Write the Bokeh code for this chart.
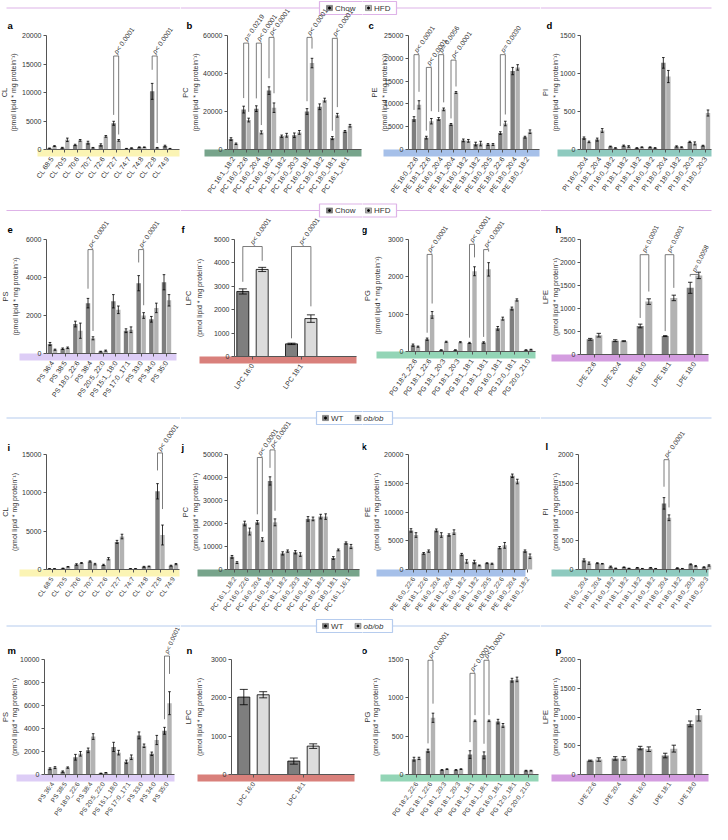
import math
from bokeh.plotting import figure
from bokeh.layouts import column, row
from bokeh.models import FixedTicker, NumeralTickFormatter, Range1d
from bokeh.core.properties import value
from bokeh.embed import file_html
from bokeh.resources import INLINE

FONT = "Liberation Sans"

# ------------------------------------------------------------------ DATA
CL_LABELS = ["CL 68:5", "CL 70:5", "CL 70:6", "CL 70:7", "CL 72:6", "CL 72:7", "CL 74:7", "CL 74:8", "CL 72:8", "CL 74:9"]
PC_LABELS = ["PC 16:1_18:2", "PC 16:0_22:6", "PC 16:0_20:4", "PC 16:0_18:2", "PC 18:1_18:2", "PC 16:0_20:3",
             "PC 16:0_18:1", "PC 18:0_18:2", "PC 18:0_18:1", "PC 16:1_16:1"]
PE_LABELS = ["PE 16:0_22:6", "PE 18:1_22:6", "PE 16:0_20:4", "PE 18:1_20:4", "PE 16:0_18:2", "PE 18:1_18:2",
             "PE 18:0_20:5", "PE 18:0_22:6", "PE 18:0_20:4", "PE 18:0_18:2"]
PI_LABELS = ["PI 16:0_20:4", "PI 18:1_20:4", "PI 16:0_18:2", "PI 18:1_18:2", "PI 18:1_18:2", "PI 16:0_18:2",
             "PI 18:0_20:4", "PI 18:0_18:2", "PI 18:0_20:3", "PI 18:0_20:3"]
PS_LABELS = ["PS 36:4", "PS 38:5", "PS 18:0_22:6", "PS 38:4", "PS 20:5_22:0", "PS 15:1_18:0", "PS 17:0_17:1",
             "PS 33:0", "PS 34:0", "PS 35:0"]
LPC_LABELS = ["LPC 16:0", "LPC 18:1"]
PG_LABELS = ["PG 18:2_22:6", "PG 18:1_22:6", "PG 18:1_20:3", "PG 18:1_20:3", "PG 18:1_18:1", "PG 18:1_18:1",
             "PG 16:0_18:1", "PG 12:0_18:1", "PG 20:0_21:0"]
LPE_LABELS = ["LPE 22:6", "LPE 20:4", "LPE 16:0", "LPE 18:1", "LPE 18:0"]

# --- Chow vs HFD
a_chow = [200, 300, 800, 1200, 800, 4600, 150, 400, 10200, 600]
a_hfd = [600, 1700, 1600, 300, 2300, 1600, 250, 400, 300, 150]
a_chow_sem = [60, 80, 120, 250, 200, 350, 40, 60, 1400, 150]
a_hfd_sem = [80, 300, 150, 60, 150, 150, 50, 50, 60, 40]
a_ticks = [0, 5000, 10000, 15000, 20000]
a_sig = [(5, 16400, "p < 0.0001"), (8, 16400, "p < 0.0001")]

b_chow = [5500, 21000, 21500, 31000, 7000, 7500, 20000, 22500, 6000, 9500]
b_hfd = [3000, 15500, 9000, 22000, 7500, 9000, 45500, 26000, 18000, 12500]
b_chow_sem = [700, 1800, 1500, 2000, 600, 1200, 1500, 1500, 800, 500]
b_hfd_sem = [400, 1000, 800, 2500, 1000, 1000, 2500, 1000, 1000, 700]
b_ticks = [0, 20000, 40000, 60000]
b_sig = [(1, 56000, "p = 0.0219"), (2, 56000, "p < 0.0001"), (3, 59000, "p < 0.0001"),
         (6, 59000, "p < 0.0001"), (8, 58500, "p < 0.0001")]

c_chow = [6700, 2600, 6700, 5500, 2000, 1200, 1100, 3600, 17200, 2700]
c_hfd = [9800, 6200, 8800, 12500, 1900, 1300, 1100, 5700, 18000, 3900]
c_chow_sem = [500, 300, 300, 200, 300, 400, 200, 300, 800, 200]
c_hfd_sem = [900, 600, 300, 200, 300, 500, 200, 500, 600, 400]
c_ticks = [0, 5000, 10000, 15000, 20000, 25000]
c_sig = [(0, 20800, "p < 0.0001"), (1, 18000, "p < 0.0001"), (2, 20800, "p = 0.0056"),
         (3, 19600, "p < 0.0001"), (7, 20800, "p = 0.0030")]

d_chow = [150, 130, 40, 50, 20, 30, 1140, 40, 100, 50]
d_hfd = [100, 250, 20, 40, 30, 20, 960, 30, 80, 480]
d_chow_sem = [15, 20, 5, 8, 4, 5, 70, 8, 8, 6]
d_hfd_sem = [10, 25, 4, 10, 5, 5, 80, 6, 20, 40]
d_ticks = [0, 500, 1000, 1500]
d_sig = []

e_chow = [500, 250, 1550, 2650, 100, 2750, 1200, 3700, 1800, 3750]
e_hfd = [200, 300, 1200, 800, 150, 2300, 1250, 2000, 2400, 2800]
e_chow_sem = [80, 40, 150, 250, 20, 350, 100, 400, 150, 400]
e_hfd_sem = [30, 40, 400, 80, 30, 200, 150, 150, 250, 300]
e_ticks = [0, 2000, 4000, 6000]
e_sig = [(3, 5470, "p < 0.0001"), (7, 5470, "p < 0.0001")]

f_chow = [2780, 540]
f_hfd = [3720, 1620]
f_chow_sem = [110, 30]
f_hfd_sem = [90, 160]
f_ticks = [0, 1000, 2000, 3000, 4000, 5000]
f_sig = [(0, 4700, "p < 0.0001"), (1, 4700, "p < 0.0001")]

g_chow = [170, 330, 40, 40, 230, 240, 620, 1150, 40]
g_hfd = [130, 980, 260, 250, 2150, 2200, 880, 1380, 50]
g_chow_sem = [30, 30, 5, 5, 15, 20, 50, 40, 5]
g_hfd_sem = [15, 90, 15, 15, 120, 180, 40, 30, 10]
g_ticks = [0, 1000, 2000, 3000]
g_sig = [(1, 2600, "p < 0.0001"), (4, 2870, "p < 0.0001"), (5, 2730, "p < 0.0001")]

h_chow = [330, 300, 620, 400, 1450]
h_hfd = [420, 290, 1150, 1230, 1720]
h_chow_sem = [20, 20, 40, 10, 120]
h_hfd_sem = [40, 10, 60, 60, 70]
h_ticks = [0, 500, 1000, 1500, 2000, 2500]
h_sig = [(2, 2170, "p < 0.0001"), (3, 2170, "p < 0.0001"), (4, 1740, "p = 0.0058")]

# --- WT vs ob/ob
i_wt = [100, 150, 650, 1050, 600, 3600, 100, 350, 10200, 500]
i_ob = [100, 350, 850, 700, 1400, 4300, 100, 400, 4500, 700]
i_wt_sem = [20, 30, 100, 80, 80, 200, 20, 60, 1000, 60]
i_ob_sem = [20, 40, 60, 100, 150, 300, 20, 50, 1300, 80]
i_ticks = [0, 5000, 10000, 15000]
i_sig = [(8, 15200, "p < 0.0001")]

j_wt = [5500, 20000, 20500, 38500, 7000, 7500, 22000, 23000, 5000, 11500]
j_ob = [3000, 16500, 13000, 20500, 8000, 6500, 22000, 23000, 8500, 10000]
j_wt_sem = [600, 1000, 800, 1800, 700, 700, 1000, 1000, 600, 500]
j_ob_sem = [400, 1500, 800, 1500, 500, 800, 800, 1200, 400, 900]
j_ticks = [0, 10000, 20000, 30000, 40000, 50000]
j_sig = [(2, 48700, "p < 0.0001"), (3, 52000, "p < 0.0001")]

k_wt = [6800, 2800, 6800, 6000, 2600, 1300, 1100, 3800, 16300, 3200]
k_ob = [6000, 3200, 6000, 6500, 1400, 700, 1000, 4200, 15300, 2300]
k_wt_sem = [300, 150, 250, 200, 200, 300, 80, 200, 300, 200]
k_ob_sem = [400, 200, 400, 400, 300, 80, 100, 500, 400, 400]
k_ticks = [0, 5000, 10000, 15000, 20000]
k_sig = []

l_wt = [160, 110, 50, 40, 30, 30, 1150, 25, 90, 40]
l_ob = [110, 100, 20, 20, 15, 15, 900, 15, 60, 70]
l_wt_sem = [25, 8, 10, 5, 5, 5, 100, 5, 8, 8]
l_ob_sem = [20, 5, 5, 3, 3, 3, 50, 3, 10, 12]
l_ticks = [0, 500, 1000, 1500, 2000]
l_sig = [(6, 1910, "p < 0.0001")]

m_wt = [500, 250, 1500, 2100, 100, 2400, 1100, 3400, 1800, 3800]
m_ob = [600, 600, 1800, 3300, 150, 1900, 1500, 2500, 3000, 6200]
m_wt_sem = [80, 60, 250, 200, 20, 400, 150, 300, 150, 300]
m_ob_sem = [80, 60, 200, 250, 20, 200, 200, 150, 400, 1000]
m_ticks = [0, 2000, 4000, 6000, 8000, 10000]
m_sig = [(9, 10300, "p < 0.0001")]

n_wt = [2020, 350]
n_ob = [2080, 740]
n_wt_sem = [200, 80]
n_ob_sem = [80, 60]
n_ticks = [0, 1000, 2000, 3000]
n_sig = []

o_wt = [200, 310, 60, 60, 260, 250, 690, 1230, 50]
o_ob = [210, 740, 70, 70, 700, 700, 640, 1240, 50]
o_wt_sem = [25, 20, 5, 5, 50, 45, 30, 25, 5]
o_ob_sem = [15, 60, 5, 5, 10, 10, 25, 30, 5]
o_ticks = [0, 500, 1000, 1500]
o_sig = [(1, 1490, "p < 0.0001"), (4, 1320, "p < 0.0001"), (5, 1490, "p < 0.0001")]

p_wt = [240, 280, 460, 330, 880]
p_ob = [260, 280, 440, 450, 1030]
p_wt_sem = [10, 30, 30, 40, 50]
p_ob_sem = [30, 30, 40, 60, 100]
p_ticks = [0, 500, 1000, 1500, 2000]
p_sig = []

# ------------------------------------------------------------------ STYLE / LAYOUT
DARK = "#7e7e7e"
LIGHT = "#b3b3b3"
LPC_LIGHT = "#dcdcdc"
AXC = "#555555"
TXT = "#333333"
UNIT = "(pmol lipid * mg protein\u207b\u00b9)"

BAND = {"CL": "#fbf4b4", "PC": "#77a48b", "PE": "#a6c0e9", "PI": "#8ecabf",
        "PS": "#ddcdf6", "LPC": "#d9807b", "PG": "#93d5b6", "LPE": "#d49de0"}

# bar width, half offset, cap half width (px)
BAR_STYLE = {"std": (4.4, 2.5, 1.3), "lpe": (7.0, 4.3, 2.2), "lpc": (12.0, 9.7, 4.0)}

ROWS_REF = [(8, 210), (211, 419), (421, 629), (633, 839)]
COLS_REF = [(6, 186), (186, 368), (368, 546), (546, 718)]
ROW_XLABEL_SIZE = ["7px", "7px", "6.5px", "6.5px"]
BAND_H = 7

LAY = {
    "a": dict(ax=52, g0=57.5, g1=173, bl=43, br=185, top=43, base=157, let=(13, 33), t1=10, t2=19),
    "b": dict(ax=233, g0=239, g1=353, bl=210, br=367, top=43, base=157, let=(192, 33), t1=190.5, t2=201),
    "c": dict(ax=414, g0=422, g1=533, bl=389, br=545, top=43, base=157, let=(374, 33), t1=380, t2=390),
    "d": dict(ax=586, g0=592, g1=711, bl=563, br=717, top=43, base=157, let=(552, 33), t1=550.5, t2=561),
    "e": dict(ax=52, g0=58, g1=172, bl=25, br=182, top=248, base=362, let=(13, 238), t1=11, t2=21),
    "f": dict(ax=240, g0=258, g1=306.7, bl=205, br=362, top=248, base=365, let=(187, 238), t1=194, t2=205),
    "g": dict(ax=414, g0=421, g1=534, bl=382, br=541, top=248, base=360, let=(367, 238), t1=373, t2=383),
    "h": dict(ax=586, g0=600, g1=700, bl=557, br=714, top=248, base=363, let=(561, 238), t1=550.5, t2=561),
    "i": dict(ax=52, g0=57.5, g1=179, bl=25, br=185, top=465, base=580, let=(13, 458), t1=11, t2=20),
    "j": dict(ax=233, g0=240, g1=354, bl=203, br=365, top=465, base=580, let=(187, 458), t1=190.5, t2=201),
    "k": dict(ax=414, g0=419, g1=533, bl=382, br=531, top=465, base=580, let=(367, 457), t1=373, t2=382),
    "l": dict(ax=584, g0=592, g1=712, bl=557, br=714, top=465, base=580, let=(551, 457), t1=550.5, t2=561),
    "m": dict(ax=50, g0=58, g1=172.5, bl=22, br=180, top=674, base=789, let=(13, 665), t1=11, t2=20),
    "n": dict(ax=237, g0=259, g1=309, bl=203, br=360, top=674, base=789, let=(192, 665), t1=194, t2=205),
    "o": dict(ax=414, g0=422, g1=534, bl=386, br=544, top=674, base=789, let=(367, 665), t1=373, t2=381),
    "p": dict(ax=586, g0=600, g1=700, bl=557, br=714, top=674, base=789, let=(561, 665), t1=550.5, t2=561),
}

PINK = "#deb3e8"
BLUE = "#b6ccee"
LEGENDS = [
    dict(y=15.5, x0=325, x1=402, color=PINK, items=[(332, "Chow", DARK, "normal"), (371, "HFD", LIGHT, "normal")]),
    dict(y=219, x0=325, x1=402, color=PINK, items=[(332, "Chow", DARK, "normal"), (371, "HFD", LIGHT, "normal")]),
    dict(y=428.5, x0=322, x1=398, color=BLUE, items=[(328, "WT", DARK, "normal"), (360.5, "ob/ob", LIGHT, "italic")]),
    dict(y=640.5, x0=322, x1=398, color=BLUE, items=[(328, "WT", DARK, "normal"), (360.5, "ob/ob", LIGHT, "italic")]),
]
CHAR_W = {"Chow": 20.5, "HFD": 17.8, "WT": 16.0, "ob/ob": 20.0}

SPECS = [
    dict(key="a", row=0, col=0, lipid="CL", labels=CL_LABELS, c=a_chow, t=a_hfd, cs=a_chow_sem, ts=a_hfd_sem, ticks=a_ticks, sig=a_sig, style="std"),
    dict(key="b", row=0, col=1, lipid="PC", labels=PC_LABELS, c=b_chow, t=b_hfd, cs=b_chow_sem, ts=b_hfd_sem, ticks=b_ticks, sig=b_sig, style="std"),
    dict(key="c", row=0, col=2, lipid="PE", labels=PE_LABELS, c=c_chow, t=c_hfd, cs=c_chow_sem, ts=c_hfd_sem, ticks=c_ticks, sig=c_sig, style="std"),
    dict(key="d", row=0, col=3, lipid="PI", labels=PI_LABELS, c=d_chow, t=d_hfd, cs=d_chow_sem, ts=d_hfd_sem, ticks=d_ticks, sig=d_sig, style="std"),
    dict(key="e", row=1, col=0, lipid="PS", labels=PS_LABELS, c=e_chow, t=e_hfd, cs=e_chow_sem, ts=e_hfd_sem, ticks=e_ticks, sig=e_sig, style="std"),
    dict(key="f", row=1, col=1, lipid="LPC", labels=LPC_LABELS, c=f_chow, t=f_hfd, cs=f_chow_sem, ts=f_hfd_sem, ticks=f_ticks, sig=f_sig, style="lpc"),
    dict(key="g", row=1, col=2, lipid="PG", labels=PG_LABELS, c=g_chow, t=g_hfd, cs=g_chow_sem, ts=g_hfd_sem, ticks=g_ticks, sig=g_sig, style="std"),
    dict(key="h", row=1, col=3, lipid="LPE", labels=LPE_LABELS, c=h_chow, t=h_hfd, cs=h_chow_sem, ts=h_hfd_sem, ticks=h_ticks, sig=h_sig, style="lpe"),
    dict(key="i", row=2, col=0, lipid="CL", labels=CL_LABELS, c=i_wt, t=i_ob, cs=i_wt_sem, ts=i_ob_sem, ticks=i_ticks, sig=i_sig, style="std"),
    dict(key="j", row=2, col=1, lipid="PC", labels=PC_LABELS, c=j_wt, t=j_ob, cs=j_wt_sem, ts=j_ob_sem, ticks=j_ticks, sig=j_sig, style="std"),
    dict(key="k", row=2, col=2, lipid="PE", labels=PE_LABELS, c=k_wt, t=k_ob, cs=k_wt_sem, ts=k_ob_sem, ticks=k_ticks, sig=k_sig, style="std"),
    dict(key="l", row=2, col=3, lipid="PI", labels=PI_LABELS, c=l_wt, t=l_ob, cs=l_wt_sem, ts=l_ob_sem, ticks=l_ticks, sig=l_sig, style="std"),
    dict(key="m", row=3, col=0, lipid="PS", labels=PS_LABELS, c=m_wt, t=m_ob, cs=m_wt_sem, ts=m_ob_sem, ticks=m_ticks, sig=m_sig, style="std"),
    dict(key="n", row=3, col=1, lipid="LPC", labels=LPC_LABELS, c=n_wt, t=n_ob, cs=n_wt_sem, ts=n_ob_sem, ticks=n_ticks, sig=n_sig, style="lpc"),
    dict(key="o", row=3, col=2, lipid="PG", labels=PG_LABELS, c=o_wt, t=o_ob, cs=o_wt_sem, ts=o_ob_sem, ticks=o_ticks, sig=o_sig, style="std"),
    dict(key="p", row=3, col=3, lipid="LPE", labels=LPE_LABELS, c=p_wt, t=p_ob, cs=p_wt_sem, ts=p_ob_sem, ticks=p_ticks, sig=p_sig, style="lpe"),
]

P_ANGLE_DEFAULT = 55
P_ANGLE_PANEL = {"h": 63, "m": 66}
P_SIZE_DEFAULT = 6.8
P_SIZE_PANEL = {"m": 6.3, "h": 6.5}
X_ANGLE = math.radians(55)


def txt(p, x, y, s, size="7px", style="normal", angle=0.0, align="left", baseline="middle", color=TXT):
    p.text(x=[x], y=[y], text=[s], angle=angle, text_font=value(FONT), text_font_size=size,
           text_font_style=style, text_align=align, text_baseline=baseline, text_color=color)


def build(spec):
    lay = LAY[spec["key"]]
    rt, rb = ROWS_REF[spec["row"]]
    cl, cr = COLS_REF[spec["col"]]
    labels = spec["labels"]
    n = len(labels)
    ymax = spec["ticks"][-1]
    ppu = (lay["g1"] - lay["g0"]) / (n - 1)
    ppy = (lay["base"] - lay["top"]) / ymax

    def X(px):
        return (px - lay["g0"]) / ppu

    def Y(py):
        return (lay["base"] - py) / ppy

    p = figure(width=int(cr - cl), height=int(rb - rt),
               x_range=Range1d(X(cl), X(cr)), y_range=Range1d(Y(rb), Y(rt)),
               output_backend="svg", toolbar_location=None, outline_line_color=None)
    p.min_border_left = p.min_border_right = p.min_border_top = p.min_border_bottom = 0
    if p.title is not None:
        p.title.visible = False
    p.grid.visible = False
    p.background_fill_color = "white"
    p.border_fill_color = "white"

    # legend strip of this row (each figure draws the part that falls inside it)
    leg = LEGENDS[spec["row"]]
    ly = leg["y"]
    p.segment(x0=[X(max(12, cl))], y0=[Y(ly)], x1=[X(min(717, cr))], y1=[Y(ly)],
              line_color=leg["color"], line_width=1.2)
    if leg["x1"] > cl and leg["x0"] < cr:
        p.quad(left=[X(leg["x0"])], right=[X(leg["x1"])], bottom=[Y(ly + 6.5)], top=[Y(ly - 6.5)],
               fill_color="white", line_color=leg["color"], line_width=1.2)
    for mx, name, colr, fst in leg["items"]:
        if mx + 6 > cl and mx < cr:
            p.quad(left=[X(mx)], right=[X(mx + 6)], bottom=[Y(ly + 2.6)], top=[Y(ly - 2.6)],
                   fill_color=colr, line_color="#555555", line_width=0.5)
            p.scatter(x=[X(mx + 3)], y=[Y(ly)], size=2, color="black")
        tx = mx + 8.5
        if tx >= cl and tx + CHAR_W[name] <= cr:
            txt(p, X(tx), Y(ly), name, size="8px", style=fst)

    # coloured class band under the baseline
    p.quad(left=[X(lay["bl"])], right=[X(lay["br"])], bottom=[Y(lay["base"] + BAND_H)], top=[0],
           fill_color=BAND[spec["lipid"]], line_color=None)

    # bars
    bw, off, cap = BAR_STYLE[spec["style"]]
    bwu, offu, capu = bw / ppu, off / ppu, cap / ppu
    x_c = [i - offu for i in range(n)]
    x_t = [i + offu for i in range(n)]
    outline = "black" if spec["style"] == "lpc" else None
    light = LPC_LIGHT if spec["style"] == "lpc" else LIGHT
    p.vbar(x=x_c, top=spec["c"], bottom=0, width=bwu, fill_color=DARK, line_color=outline, line_width=0.8)
    p.vbar(x=x_t, top=spec["t"], bottom=0, width=bwu, fill_color=light, line_color=outline, line_width=0.8)

    # error bars (mean +/- SEM)
    for xs, m, e in ((x_c, spec["c"], spec["cs"]), (x_t, spec["t"], spec["ts"])):
        lo = [max(mi - ei, 0) for mi, ei in zip(m, e)]
        hi = [mi + ei for mi, ei in zip(m, e)]
        p.segment(x0=xs, y0=lo, x1=xs, y1=hi, line_color="black", line_width=0.8)
        p.segment(x0=[x - capu for x in xs], y0=hi, x1=[x + capu for x in xs], y1=hi,
                  line_color="black", line_width=0.8)
        p.segment(x0=[x - capu for x in xs], y0=lo, x1=[x + capu for x in xs], y1=lo,
                  line_color="black", line_width=0.8)

    # significance brackets
    ang = math.radians(P_ANGLE_PANEL.get(spec["key"], P_ANGLE_DEFAULT))
    psz = P_SIZE_PANEL.get(spec["key"], P_SIZE_DEFAULT)
    for g, top, label in spec["sig"]:
        xl, xr = g - offu, g + offu
        lleg = min(spec["c"][g] + 2.2 * spec["cs"][g] + 4 / ppy, top - 2 / ppy)
        rleg = min(spec["t"][g] + 2.2 * spec["ts"][g] + 4 / ppy, top - 2 / ppy)
        p.line(x=[xl, xl, xr, xr], y=[lleg, top, top, rleg], line_color="#5a5a5a", line_width=0.8)
        ax0, ay0 = g - 1.0 / ppu, top + 3.0 / ppy
        txt(p, ax0, ay0, label[0], size=f"{psz}px", style="italic", angle=ang)
        w = 0.58 * psz
        txt(p, ax0 + w * math.cos(ang) / ppu, ay0 + w * math.sin(ang) / ppy, label[1:],
            size=f"{psz}px", angle=ang)

    # panel letter and axis titles
    lx, lyy = lay["let"]
    txt(p, X(lx), Y(lyy), spec["key"], size="9.5px", style="bold", color="black")
    mid = (lay["top"] + lay["base"]) / 2
    txt(p, X(lay["t1"]), Y(mid), spec["lipid"], size="7.5px", angle=math.pi / 2, align="center")
    txt(p, X(lay["t2"]), Y(mid), UNIT, size="7px", angle=math.pi / 2, align="center")

    # y axis (placed at its own location inside the frame)
    yax = p.yaxis[0]
    yax.fixed_location = X(lay["ax"])
    yax.bounds = (0, ymax)
    yax.ticker = FixedTicker(ticks=spec["ticks"], minor_ticks=[])
    yax.formatter = NumeralTickFormatter(format="0")
    yax.major_tick_out = 3
    yax.major_tick_in = 0
    yax.minor_tick_out = 0
    yax.minor_tick_in = 0
    yax.axis_line_color = AXC
    yax.major_tick_line_color = AXC
    yax.major_label_text_font = FONT
    yax.major_label_text_font_size = "7px"
    yax.major_label_text_color = TXT
    yax.major_label_standoff = 2

    # x axis at the baseline
    xax = p.xaxis[0]
    xax.fixed_location = 0
    xax.bounds = (X(lay["ax"]), X(lay["br"]))
    xax.ticker = FixedTicker(ticks=list(range(n)), minor_ticks=[])
    xax.major_label_overrides = {i: lab for i, lab in enumerate(labels)}
    xax.major_label_orientation = X_ANGLE
    xax.major_tick_out = 3
    xax.major_tick_in = 0
    xax.minor_tick_out = 0
    xax.minor_tick_in = 0
    xax.axis_line_color = AXC
    xax.major_tick_line_color = AXC
    xax.major_label_text_font = FONT
    xax.major_label_text_font_size = ROW_XLABEL_SIZE[spec["row"]]
    xax.major_label_text_color = TXT
    xax.major_label_standoff = 5
    return p


figs = [build(s) for s in SPECS]
layout = column(*[row(*figs[r * 4:(r + 1) * 4]) for r in range(4)])

open("out.html", "w").write(file_html(layout, INLINE))
